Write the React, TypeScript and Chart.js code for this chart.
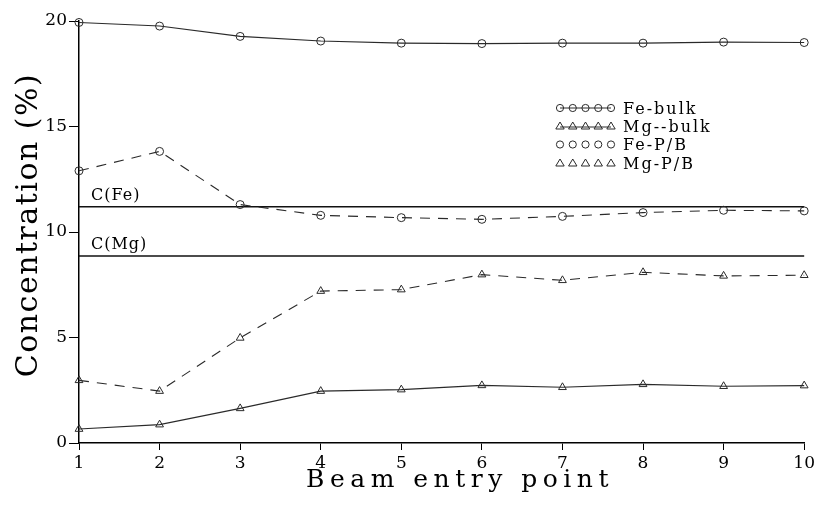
import React, { useEffect, useRef } from "react";
import { Chart, registerables } from "chart.js";

Chart.register(...registerables);

const entryPoints = [1, 2, 3, 4, 5, 6, 7, 8, 9, 10];
const feBulk = [19.93, 19.76, 19.27, 19.05, 18.95, 18.93, 18.95, 18.95, 19.0, 18.98];
const mgBulk = [0.66, 0.87, 1.64, 2.46, 2.53, 2.73, 2.64, 2.78, 2.69, 2.72];
const fePB = [12.9, 13.82, 11.3, 10.79, 10.68, 10.6, 10.74, 10.92, 11.03, 11.0];
const mgPB = [2.97, 2.46, 4.98, 7.2, 7.27, 7.98, 7.71, 8.09, 7.92, 7.95];
const cFe = 11.2;
const cMg = 8.86;
const yTicks = [0, 5, 10, 15, 20];
const legendLabels = ["Fe-bulk", "Mg--bulk", "Fe-P/B", "Mg-P/B"];
const xTitle = "Beam entry point";
const yTitle = "Concentration (%)";

const SERIF = '"DejaVu Serif", serif';
const LINE = "#2a2a2a";

const pts = (vals: number[]) => vals.map((v, i) => ({ x: entryPoints[i], y: v }));

const overlay = {
  id: "overlay",
  afterDraw(chart: any) {
    const ctx = chart.ctx as CanvasRenderingContext2D;
    const xs = chart.scales.x;
    const ys = chart.scales.y;
    ctx.save();
    ctx.fillStyle = "#000";
    ctx.font = `16px ${SERIF}`;
    (ctx as any).letterSpacing = "1px";
    ctx.textAlign = "left";
    ctx.textBaseline = "alphabetic";
    ctx.fillText("C(Fe)", xs.getPixelForValue(1) + 12, ys.getPixelForValue(cFe) - 7);
    ctx.fillText("C(Mg)", xs.getPixelForValue(1) + 12, ys.getPixelForValue(cMg) - 7);

    const lx = 560;
    const rows = [108, 126, 144.5, 163];
    rows.forEach((ry, r) => {
      ctx.strokeStyle = LINE;
      ctx.lineWidth = 1;
      for (let i = 0; i < 5; i++) {
        const cx = lx + i * 12.75;
        ctx.beginPath();
        if (r % 2 === 0) {
          ctx.arc(cx, ry, 3.6, 0, Math.PI * 2);
        } else {
          ctx.moveTo(cx, ry - 4);
          ctx.lineTo(cx + 4.2, ry + 3);
          ctx.lineTo(cx - 4.2, ry + 3);
          ctx.closePath();
        }
        ctx.stroke();
      }
      ctx.beginPath();
      if (r < 2) {
        ctx.moveTo(lx, r % 2 === 0 ? ry : ry + 1);
        ctx.lineTo(lx + 51, r % 2 === 0 ? ry : ry + 1);
        ctx.stroke();
      }
      ctx.font = `16px ${SERIF}`;
      (ctx as any).letterSpacing = "2px";
      ctx.fillStyle = "#000";
      ctx.fillText(legendLabels[r], 623, ry + 5.5);
    });

    ctx.font = `25px ${SERIF}`;
    (ctx as any).letterSpacing = "5.5px";
    ctx.textAlign = "center";
    ctx.fillText(xTitle, 460, 487);

    ctx.translate(37, 225);
    ctx.rotate(-Math.PI / 2);
    ctx.font = `30px ${SERIF}`;
    (ctx as any).letterSpacing = "1.5px";
    ctx.fillText(yTitle, 0, 0);
    ctx.restore();
  },
};

export default function App() {
  const ref = useRef<HTMLCanvasElement | null>(null);
  useEffect(() => {
    if (!ref.current) return;
    const common = { borderColor: LINE, borderWidth: 1.1, pointBorderColor: LINE, pointBackgroundColor: "rgba(0,0,0,0)", pointBorderWidth: 1, fill: false, tension: 0 };
    const chart = new Chart(ref.current, {
      type: "line",
      data: {
        datasets: [
          { label: "Fe-bulk", data: pts(feBulk), ...common, pointStyle: "circle", pointRadius: 4 },
          { label: "Mg-bulk", data: pts(mgBulk), ...common, pointStyle: "triangle", pointRadius: 4.5 },
          { label: "Fe-P/B", data: pts(fePB), ...common, borderDash: [10, 8], pointStyle: "circle", pointRadius: 4 },
          { label: "Mg-P/B", data: pts(mgPB), ...common, borderDash: [10, 8], pointStyle: "triangle", pointRadius: 4.5 },
          { label: "C(Fe)", data: [{ x: 1, y: cFe }, { x: 10, y: cFe }], borderColor: "#111", borderWidth: 1.5, pointRadius: 0 },
          { label: "C(Mg)", data: [{ x: 1, y: cMg }, { x: 10, y: cMg }], borderColor: "#111", borderWidth: 1.5, pointRadius: 0 },
        ],
      },
      options: {
        animation: false,
        responsive: true,
        maintainAspectRatio: false,
        clip: false as any,
        layout: { padding: { top: 21, right: 13, left: 0, bottom: 0 } },
        plugins: { legend: { display: false }, tooltip: { enabled: false }, title: { display: false } },
        scales: {
          x: {
            type: "linear",
            min: 1,
            max: 10,
            afterFit: (s: any) => { s.height = 64; },
            afterBuildTicks: (s: any) => { s.ticks = entryPoints.map((v) => ({ value: v })); },
            ticks: { color: "#000", font: { family: SERIF, size: 17 }, padding: 3, maxRotation: 0 },
            grid: { drawOnChartArea: false, drawTicks: true, tickLength: 7, color: "#000", lineWidth: 1 },
            border: { display: true, color: "#000", width: 1.5 },
          },
          y: {
            type: "linear",
            min: 0,
            max: 20,
            afterFit: (s: any) => { s.width = 79; },
            afterBuildTicks: (s: any) => { s.ticks = yTicks.map((v) => ({ value: v })); },
            ticks: { color: "#000", font: { family: SERIF, size: 17 }, padding: 2 },
            grid: { drawOnChartArea: false, drawTicks: true, tickLength: 10, color: "#000", lineWidth: 1 },
            border: { display: true, color: "#000", width: 1.5 },
          },
        },
      },
      plugins: [overlay],
    } as any);
    return () => chart.destroy();
  }, []);
  return (
    <div style={{ position: "fixed", left: 0, top: 0, width: 818, height: 507, background: "#fff" }}>
      <canvas ref={ref} />
    </div>
  );
}
